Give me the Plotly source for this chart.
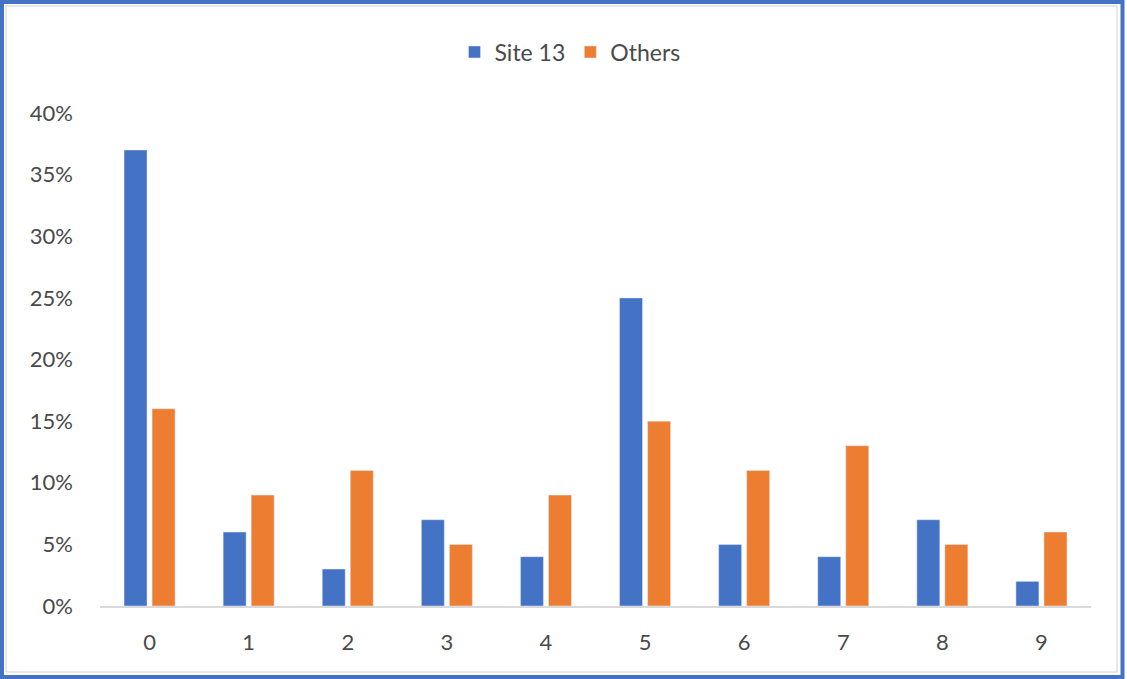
import plotly.graph_objects as go

categories = ["0", "1", "2", "3", "4", "5", "6", "7", "8", "9"]
site13 = [0.37, 0.06, 0.03, 0.07, 0.04, 0.25, 0.05, 0.04, 0.07, 0.02]
others = [0.16, 0.09, 0.11, 0.05, 0.09, 0.15, 0.11, 0.13, 0.05, 0.06]
y_ticks = [0, 0.05, 0.10, 0.15, 0.20, 0.25, 0.30, 0.35, 0.40]

W, H = 1127, 679
L, R, T, B = 100, 36, 113, 73
pw, ph = W - L - R, H - T - B

def px(x):
    return (x - L) / pw

def py(y):
    return (H - B - y) / ph

font = "Lato, 'Open Sans', sans-serif"
gray = "#4a4a4a"

fig = go.Figure()
fig.add_trace(go.Bar(x=categories, y=site13, name="Site 13", marker_color="#4472C4"))
fig.add_trace(go.Bar(x=categories, y=others, name="Others", marker_color="#ED7D31"))

fig.update_layout(
    width=W, height=H,
    margin=dict(l=L, r=R, t=T, b=B, pad=0),
    paper_bgcolor="white", plot_bgcolor="white",
    barmode="group", bargap=0.434, bargroupgap=0.18,
    font=dict(family=font, size=22, color=gray),
    showlegend=True,
    legend=dict(orientation="h", x=px(570), xanchor="center", y=py(52), yanchor="middle",
                font=dict(size=23, color=gray), itemwidth=30),
    xaxis=dict(type="category", range=[-0.5, 9.5], showline=True, linecolor="#D9D9D9",
               linewidth=2, showgrid=False, ticks="", ticklabelstandoff=16,
               tickfont=dict(size=22, color=gray)),
    yaxis=dict(range=[0, 0.4], tickvals=y_ticks, tickformat=".0%", showgrid=False,
               zeroline=False, showline=False, ticks="", ticklabelstandoff=26,
               tickfont=dict(size=22, color=gray)),
    shapes=[
        dict(type="rect", xref="paper", yref="paper", x0=px(6), x1=px(1117), y0=py(6), y1=py(672),
             line=dict(color="#D0D0D0", width=1), layer="below"),
        dict(type="rect", xref="paper", yref="paper", x0=px(2), x1=px(1122.5), y0=py(2), y1=py(677),
             line=dict(color="#4472C4", width=4), layer="above"),
    ],
)

fig.write_html("out.html")
